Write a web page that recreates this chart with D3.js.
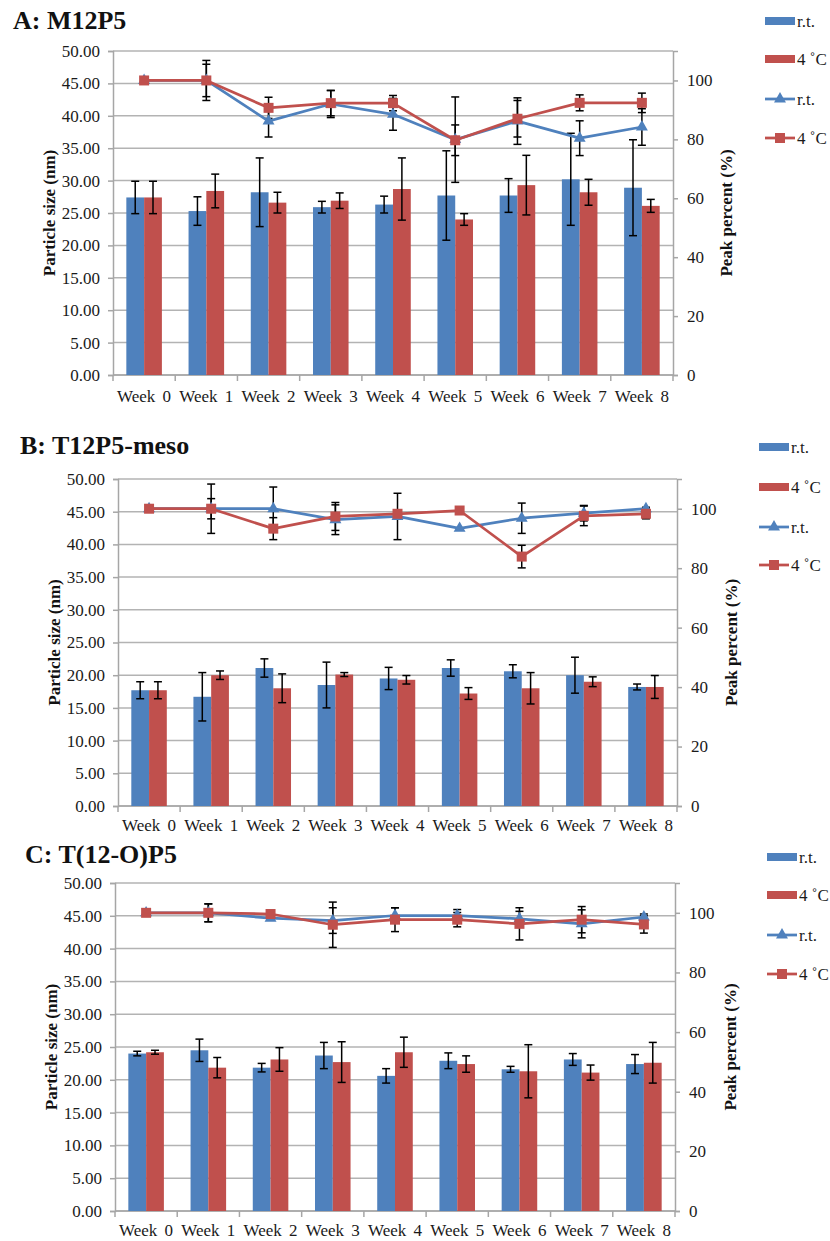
<!DOCTYPE html>
<html><head><meta charset="utf-8">
<script src="https://cdn.jsdelivr.net/npm/d3@7"></script>
<style>
body{margin:0;background:#fff;}
svg{display:block;}
</style></head>
<body>
<svg id="chart" width="830" height="1241"></svg>
<script>
// ---------- DATA ----------
const weeks = ["Week 0","Week 1","Week 2","Week 3","Week 4","Week 5","Week 6","Week 7","Week 8"];
const seriesNames = ["r.t.","4 ˚C"];
const leftTicks = [0,5,10,15,20,25,30,35,40,45,50];
const rightTicks = [0,20,40,60,80,100];
const panelTitles = ["A: M12P5","B: T12P5-meso","C: T(12-O)P5"];

// Panel A — particle size (bars) and peak percent (lines)
const aBarRt     = [27.4,25.3,28.2,25.9,26.3,27.7,27.7,30.2,28.9];
const aBarRtErr  = [2.5,2.2,5.3,0.9,1.3,6.9,2.6,7.1,7.4];
const aBar4c     = [27.4,28.4,26.6,26.9,28.7,24.0,29.3,28.2,26.1];
const aBar4cErr  = [2.5,2.6,1.6,1.2,4.8,0.9,4.6,2.0,1.0];
const aLineRt    = [100,100,86.2,92.0,88.5,79.9,86.2,80.4,84.2];
const aLineRtErr = [0,6.8,5.4,4.6,5.4,14.5,7.9,5.9,6.2];
const aLine4c    = [100,100,90.7,92.3,92.3,79.7,87.0,92.4,92.4];
const aLine4cErr = [0,5.5,3.6,4.3,2.6,5.2,6.2,2.7,3.3];

// Panel B
const bBarRt     = [17.7,16.7,21.1,18.5,19.5,21.1,20.6,20.0,18.2];
const bBarRtErr  = [1.3,3.7,1.4,3.5,1.7,1.25,1.0,2.75,0.45];
const bBar4c     = [17.7,20.0,18.0,20.1,19.3,17.2,18.0,19.0,18.2];
const bBar4cErr  = [1.3,0.65,2.2,0.3,0.65,0.9,2.4,0.75,1.75];
const bLineRt    = [100,100,100,96.3,97.4,93.4,96.8,98.5,100];
const bLineRtErr = [0,8.3,7.3,5.0,7.8,0,5.1,2.6,0.5];
const bLine4c    = [100,100,93.3,97.4,98.3,99.4,83.9,97.6,98.3];
const bLine4cErr = [0,3.4,3.7,4.7,1.0,0,3.8,3.3,1.7];

// Panel C
const cBarRt     = [24.0,24.5,21.85,23.7,20.6,22.9,21.6,23.1,22.4];
const cBarRtErr  = [0.35,1.7,0.65,2.0,1.1,1.2,0.45,0.9,1.45];
const cBar4c     = [24.2,21.85,23.1,22.7,24.2,22.4,21.3,21.1,22.6];
const cBar4cErr  = [0.3,1.55,1.8,3.1,2.3,1.25,4.05,1.15,3.1];
const cLineRt    = [100,100,98.2,97.4,99.1,99.1,98.0,96.3,98.6];
const cLineRtErr = [0,3.0,0,4.3,2.6,2.0,2.5,4.7,1.0];
const cLine4c    = [100,100,99.6,96.0,97.7,97.7,96.3,97.7,96.1];
const cLine4cErr = [0,3.0,0,7.6,4.0,2.4,5.4,4.4,2.9];

// ---------- LAYOUT (positions only) ----------
const layouts = [
  {left:113,right:673,top:51,bottom:375,lab:27,titleX:13,titleY:29,ltX:49,rtX:726,legX:765,legY:[21,59,99,138]},
  {left:118,right:677,top:479,bottom:806,lab:25,titleX:20,titleY:454,ltX:54,rtX:731,legX:759,legY:[447,487,527,565]},
  {left:115,right:675,top:883,bottom:1211,lab:25,titleX:25,titleY:863,ltX:51,rtX:730,legX:767,legY:[857,895,935,974]}
];
const panelData = [
  {barRt:aBarRt,barRtErr:aBarRtErr,bar4c:aBar4c,bar4cErr:aBar4cErr,lineRt:aLineRt,lineRtErr:aLineRtErr,line4c:aLine4c,line4cErr:aLine4cErr},
  {barRt:bBarRt,barRtErr:bBarRtErr,bar4c:bBar4c,bar4cErr:bBar4cErr,lineRt:bLineRt,lineRtErr:bLineRtErr,line4c:bLine4c,line4cErr:bLine4cErr},
  {barRt:cBarRt,barRtErr:cBarRtErr,bar4c:cBar4c,bar4cErr:cBar4cErr,lineRt:cLineRt,lineRtErr:cLineRtErr,line4c:cLine4c,line4cErr:cLine4cErr}
];

const BLUE="#4F81BD", RED="#C0504D", GRID="#b3b3b3", AXIS="#a6a6a6", TXT="#1a1a1a";
const FONT = "Liberation Serif";
const svg = d3.select("#chart");
const tri = d3.symbol().type(d3.symbolTriangle).size(62);
const sq  = d3.symbol().type(d3.symbolSquare).size(100);

panelData.forEach((pd,pi)=>{
  const L = layouts[pi];
  const g = svg.append("g");
  const x0 = d3.scaleBand().domain(weeks).range([L.left,L.right]).padding(0);
  const x1 = d3.scaleBand().domain(seriesNames).range([0,x0.bandwidth()]).paddingInner(0).paddingOuter(0.75);
  const yL = d3.scaleLinear().domain([0,50]).range([L.bottom,L.top]);
  const yR = d3.scaleLinear().domain([0,110]).range([L.bottom,L.top]);
  const cx = w => x0(w)+x0.bandwidth()/2;

  // title
  g.append("text").attr("x",L.titleX).attr("y",L.titleY).attr("font-size",26).attr("font-weight","bold").attr("fill","#111").text(panelTitles[pi]);

  // gridlines
  g.append("g").selectAll("line").data(leftTicks).join("line")
    .attr("x1",L.left).attr("x2",L.right).attr("y1",d=>yL(d)).attr("y2",d=>yL(d))
    .attr("stroke",GRID).attr("stroke-width",1.5);

  // left axis
  const ax = g.append("g").attr("transform",`translate(${L.left},0)`)
    .call(d3.axisLeft(yL).tickValues(leftTicks).tickFormat(d3.format(".2f")).tickSize(5).tickPadding(8));
  ax.select(".domain").attr("stroke",AXIS).attr("stroke-width",1.5);
  ax.selectAll(".tick line").attr("stroke",AXIS).attr("stroke-width",1.5);
  ax.selectAll("text").attr("font-size",17).attr("fill",TXT);

  // right axis
  const ar = g.append("g").attr("transform",`translate(${L.right},0)`)
    .call(d3.axisRight(yR).tickValues(rightTicks).tickSize(5).tickPadding(9));
  ar.select(".domain").attr("stroke",AXIS).attr("stroke-width",1.5);
  ar.selectAll(".tick line").attr("stroke",AXIS).attr("stroke-width",1.5);
  ar.selectAll("text").attr("font-size",17).attr("fill",TXT);

  // bottom axis: labels + boundary ticks
  const bounds = weeks.map(w=>x0(w)).concat([x0.range()[1]]);
  g.append("g").selectAll("line").data(bounds).join("line")
    .attr("x1",d=>d).attr("x2",d=>d).attr("y1",L.bottom).attr("y2",L.bottom+6)
    .attr("stroke",AXIS).attr("stroke-width",1.5);
  g.append("line").attr("x1",L.left).attr("x2",L.right).attr("y1",L.bottom).attr("y2",L.bottom)
    .attr("stroke",AXIS).attr("stroke-width",1.5);
  g.append("g").selectAll("text").data(weeks).join("text")
    .attr("x",d=>cx(d)).attr("y",L.bottom+L.lab).attr("text-anchor","middle")
    .attr("font-size",17).attr("fill",TXT).style("word-spacing","3px").text(d=>d);

  // axis titles
  const midY = (L.top+L.bottom)/2;
  g.append("text").attr("transform",`translate(${L.ltX},${midY}) rotate(-90)`).attr("text-anchor","middle")
    .attr("dy","0.35em").attr("font-size",17).attr("font-weight","bold").attr("fill","#111").text("Particle size (nm)");
  g.append("text").attr("transform",`translate(${L.rtX},${midY}) rotate(-90)`).attr("text-anchor","middle")
    .attr("dy","0.35em").attr("font-size",17).attr("font-weight","bold").attr("fill","#111").text("Peak percent (%)");

  // bars
  const barSets = [
    {name:seriesNames[0],vals:pd.barRt,errs:pd.barRtErr,color:BLUE},
    {name:seriesNames[1],vals:pd.bar4c,errs:pd.bar4cErr,color:RED}
  ];
  barSets.forEach(s=>{
    g.append("g").selectAll("rect").data(weeks).join("rect")
      .attr("x",(w)=>x0(w)+x1(s.name)).attr("width",x1.bandwidth())
      .attr("y",(w,i)=>yL(s.vals[i])).attr("height",(w,i)=>L.bottom-yL(s.vals[i]))
      .attr("fill",s.color);
  });
  const errBars = (sel,xf,yScale,vals,errs)=>{
    weeks.forEach((w,i)=>{
      if(!errs[i]) return;
      const xx = xf(w), y1=yScale(vals[i]+errs[i]), y2=yScale(vals[i]-errs[i]);
      sel.append("line").attr("x1",xx).attr("x2",xx).attr("y1",y1).attr("y2",y2);
      sel.append("line").attr("x1",xx-4).attr("x2",xx+4).attr("y1",y1).attr("y2",y1);
      sel.append("line").attr("x1",xx-4).attr("x2",xx+4).attr("y1",y2).attr("y2",y2);
    });
  };
  barSets.forEach(s=>{
    const eg = g.append("g").attr("stroke","#000").attr("stroke-width",1.5);
    errBars(eg,w=>x0(w)+x1(s.name)+x1.bandwidth()/2,yL,s.vals,s.errs);
  });

  // lines
  const lineSets = [
    {vals:pd.lineRt,errs:pd.lineRtErr,color:BLUE,sym:tri},
    {vals:pd.line4c,errs:pd.line4cErr,color:RED,sym:sq}
  ];
  lineSets.forEach(s=>{
    const eg = g.append("g").attr("stroke","#000").attr("stroke-width",1.5);
    errBars(eg,cx,yR,s.vals,s.errs);
  });
  const line = d3.line().x((d,i)=>cx(weeks[i])).y(d=>yR(d));
  lineSets.forEach(s=>{
    g.append("path").datum(s.vals).attr("d",line).attr("fill","none")
      .attr("stroke",s.color).attr("stroke-width",2.75).attr("stroke-linejoin","round");
    g.append("g").selectAll("path").data(s.vals).join("path")
      .attr("d",s.sym).attr("transform",(d,i)=>`translate(${cx(weeks[i])},${yR(d)})`)
      .attr("fill",s.color);
  });

  // legend
  const lg = g.append("g");
  const sw = 30;
  [0,1].forEach(k=>{
    lg.append("rect").attr("x",L.legX).attr("y",L.legY[k]-4).attr("width",sw).attr("height",8)
      .attr("fill",k===0?BLUE:RED);
  });
  [2,3].forEach(k=>{
    const col = k===2?BLUE:RED;
    lg.append("line").attr("x1",L.legX).attr("x2",L.legX+sw).attr("y1",L.legY[k]).attr("y2",L.legY[k])
      .attr("stroke",col).attr("stroke-width",2.75);
    lg.append("path").attr("d",k===2?tri:sq).attr("transform",`translate(${L.legX+sw/2},${L.legY[k]})`).attr("fill",col);
  });
  [0,1,2,3].forEach(k=>{
    lg.append("text").attr("x",L.legX+sw+2).attr("y",L.legY[k]).attr("dy","0.35em")
      .attr("font-size",17).attr("fill",TXT).text(seriesNames[k%2]);
  });
});
// force serif font on every text element
svg.selectAll("text").style("font-family",FONT);
</script>
</body></html>
